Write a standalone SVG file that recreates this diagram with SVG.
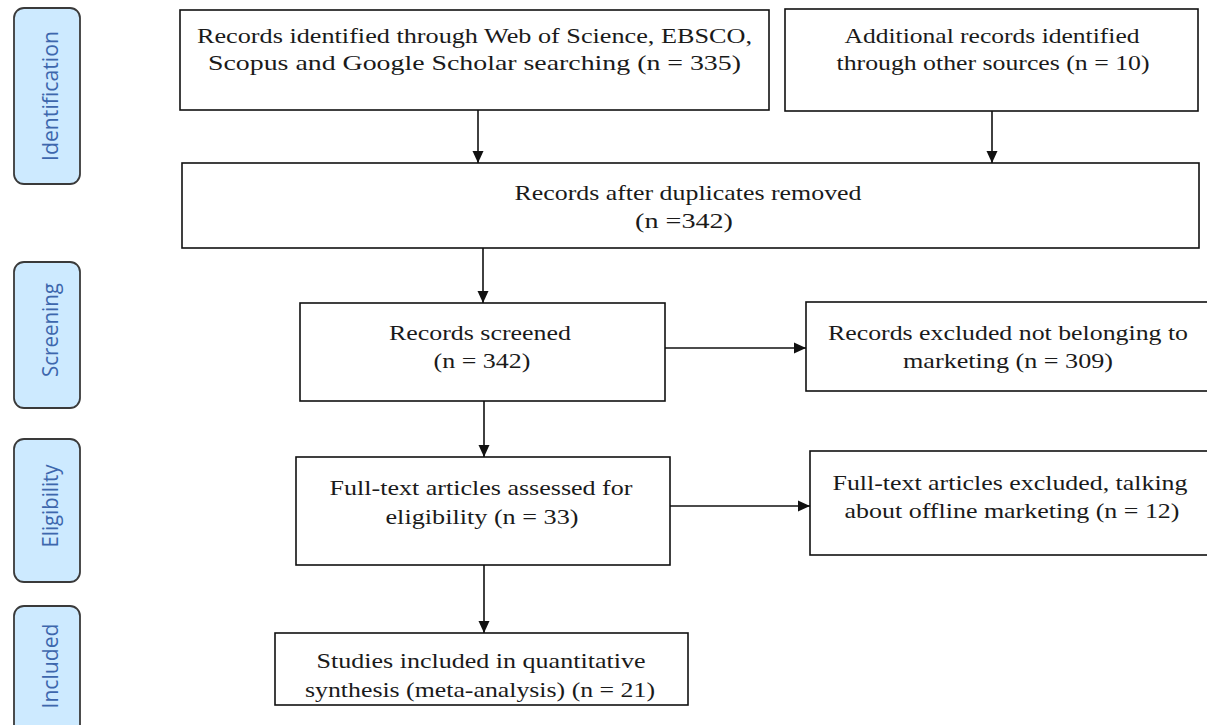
<svg xmlns="http://www.w3.org/2000/svg" width="1207" height="725" viewBox="0 0 1207 725">
<style>
.box{fill:#fff;stroke:#111;stroke-width:1.6}
.t{font-family:"Liberation Serif","Times New Roman",serif;font-size:22px;fill:#1a1a1a;text-anchor:middle}
.stage rect{fill:#cdeaff;stroke:#3a3a3a;stroke-width:1.8}
.stage text{font-family:"Open Sans","Liberation Sans",sans-serif;font-size:22px;fill:#3d67ad;text-anchor:middle}
.conn line{stroke:#111;stroke-width:1.6;marker-end:url(#ah)}
</style>
<defs>
<marker id="ah" markerUnits="userSpaceOnUse" markerWidth="12" markerHeight="12" viewBox="0 0 12 12" refX="12" refY="6" orient="auto">
<path d="M0,0.5 L12,6 L0,11.5 Z" fill="#111"/>
</marker>
</defs>
<rect width="1207" height="725" fill="#fff"/>
<g id="stage-identification" class="stage">
<rect x="14" y="8" width="66" height="176" rx="10"/>
<text transform="translate(58,96) rotate(-90)" textLength="130" lengthAdjust="spacingAndGlyphs">Identification</text>
</g>
<g id="stage-screening" class="stage">
<rect x="14" y="262" width="66" height="146" rx="10"/>
<text transform="translate(58,330) rotate(-90)" textLength="94" lengthAdjust="spacingAndGlyphs">Screening</text>
</g>
<g id="stage-eligibility" class="stage">
<rect x="14" y="439" width="66" height="143" rx="10"/>
<text transform="translate(58,506) rotate(-90)" textLength="83" lengthAdjust="spacingAndGlyphs">Eligibility</text>
</g>
<g id="stage-included" class="stage">
<rect x="14" y="606" width="66" height="130" rx="10"/>
<text transform="translate(58,666) rotate(-90)" textLength="85" lengthAdjust="spacingAndGlyphs">Included</text>
</g>
<g class="conn" id="connectors">
<line x1="478" y1="110" x2="478" y2="163"/>
<line x1="992" y1="111" x2="992" y2="163"/>
<line x1="483" y1="248" x2="483" y2="303"/>
<line x1="665" y1="348" x2="806" y2="348"/>
<line x1="484" y1="401" x2="484" y2="457"/>
<line x1="670" y1="506" x2="810" y2="506"/>
<line x1="484" y1="565" x2="484" y2="633"/>
</g>
<g id="n-db">
<rect class="box" x="180" y="10" width="589" height="100"/>
<text class="t" x="474.5" y="43" textLength="555" lengthAdjust="spacingAndGlyphs">Records identified through Web of Science, EBSCO,</text>
<text class="t" x="474.5" y="70" textLength="533" lengthAdjust="spacingAndGlyphs">Scopus and Google Scholar searching (n = 335)</text>
</g>
<g id="n-other">
<rect class="box" x="785" y="9" width="413" height="102"/>
<text class="t" x="992" y="43" textLength="295" lengthAdjust="spacingAndGlyphs">Additional records identified</text>
<text class="t" x="993" y="70" textLength="313" lengthAdjust="spacingAndGlyphs">through other sources (n = 10)</text>
</g>
<g id="n-dedup">
<rect class="box" x="182" y="163" width="1017" height="85"/>
<text class="t" x="688" y="200" textLength="347" lengthAdjust="spacingAndGlyphs">Records after duplicates removed</text>
<text class="t" x="684" y="228" textLength="98" lengthAdjust="spacingAndGlyphs">(n =342)</text>
</g>
<g id="n-screened">
<rect class="box" x="300" y="303" width="365" height="98"/>
<text class="t" x="480" y="340" textLength="182" lengthAdjust="spacingAndGlyphs">Records screened</text>
<text class="t" x="482" y="368" textLength="97" lengthAdjust="spacingAndGlyphs">(n = 342)</text>
</g>
<g id="n-excl1">
<rect class="box" x="806" y="302" width="410" height="89"/>
<text class="t" x="1008" y="340" textLength="360" lengthAdjust="spacingAndGlyphs">Records excluded not belonging to</text>
<text class="t" x="1008" y="368" textLength="210" lengthAdjust="spacingAndGlyphs">marketing (n = 309)</text>
</g>
<g id="n-fulltext">
<rect class="box" x="296" y="457" width="374" height="108"/>
<text class="t" x="481" y="495" textLength="303" lengthAdjust="spacingAndGlyphs">Full-text articles assessed for</text>
<text class="t" x="482" y="524" textLength="193" lengthAdjust="spacingAndGlyphs">eligibility  (n = 33)</text>
</g>
<g id="n-excl2">
<rect class="box" x="810" y="451" width="410" height="104"/>
<text class="t" x="1010" y="490" textLength="355" lengthAdjust="spacingAndGlyphs">Full-text articles excluded, talking</text>
<text class="t" x="1012" y="518" textLength="335" lengthAdjust="spacingAndGlyphs">about offline marketing (n = 12)</text>
</g>
<g id="n-included">
<rect class="box" x="275" y="633" width="413" height="72"/>
<text class="t" x="481" y="668" textLength="329" lengthAdjust="spacingAndGlyphs">Studies included in quantitative</text>
<text class="t" x="480" y="697" textLength="350" lengthAdjust="spacingAndGlyphs">synthesis (meta-analysis) (n = 21)</text>
</g>
</svg>
